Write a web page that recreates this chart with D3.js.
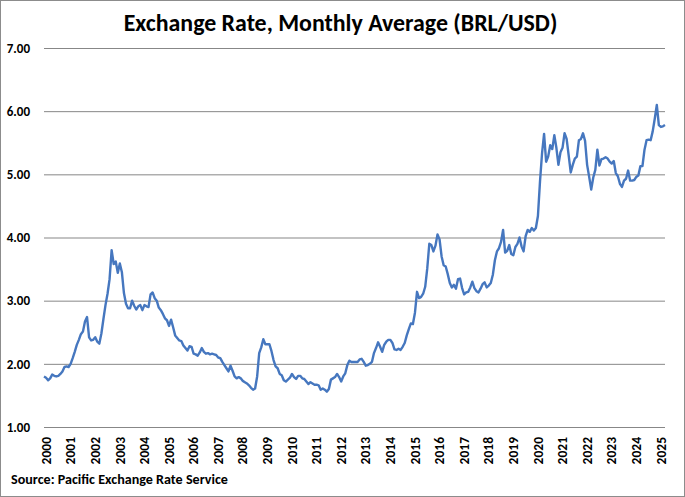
<html>
  <meta charset="utf-8">
  <head>
  <style>
    body {
      margin: 0;
      background: #fff;
    }
    svg text {
      font-family: Carlito, Lato, "Open Sans", sans-serif;
      font-weight: bold;
      fill: #000;
    }
  </style>
  </head>
  <body>
    <div id="elm"></div>

    <script src="https://d3js.org/d3.v7.min.js"></script>
    <script>

    'use strict';

    // monthly averages BRL per USD, Jan 2000 .. Apr 2025
    var rates2000s = [
      1.80, 1.78, 1.74, 1.77, 1.83, 1.81, 1.80, 1.81, 1.84, 1.88, 1.95, 1.96,
      1.95, 2.00, 2.09, 2.19, 2.30, 2.38, 2.47, 2.51, 2.67, 2.74, 2.42, 2.37,
      2.38, 2.42, 2.35, 2.32, 2.48, 2.71, 2.93, 3.11, 3.34, 3.80, 3.58, 3.62,
      3.44, 3.59, 3.45, 3.12, 2.95, 2.88, 2.88, 3.00, 2.92, 2.86, 2.91, 2.93,
      2.85, 2.93, 2.91, 2.90, 3.10, 3.13, 3.04, 3.00, 2.89, 2.85, 2.79, 2.72,
      2.69, 2.60, 2.70, 2.58, 2.45, 2.41, 2.37, 2.36, 2.29, 2.25, 2.21, 2.28,
      2.27, 2.16, 2.15, 2.13, 2.18, 2.25, 2.19, 2.16, 2.17, 2.15, 2.16, 2.15,
      2.14, 2.10, 2.09, 2.03, 1.98, 1.93, 1.88, 1.97, 1.89, 1.80, 1.77, 1.79,
      1.77, 1.73, 1.71, 1.69, 1.66, 1.62, 1.59, 1.61, 1.80, 2.17, 2.26, 2.39,
      2.31, 2.31, 2.31, 2.20, 2.06, 1.96, 1.93, 1.84, 1.82, 1.74, 1.72, 1.75
    ];
    var rates2010s = [
      1.78, 1.84, 1.79, 1.76, 1.81, 1.81, 1.77, 1.76, 1.72, 1.68, 1.71, 1.69,
      1.67, 1.67, 1.66, 1.59, 1.61, 1.59, 1.56, 1.60, 1.75, 1.77, 1.79, 1.84,
      1.79, 1.72, 1.80, 1.85, 1.98, 2.05, 2.03, 2.03, 2.03, 2.03, 2.07, 2.08,
      2.03, 1.97, 1.98, 2.00, 2.03, 2.17, 2.25, 2.34, 2.27, 2.19, 2.30, 2.35,
      2.38, 2.38, 2.33, 2.23, 2.22, 2.24, 2.22, 2.27, 2.33, 2.45, 2.55, 2.64,
      2.63, 2.81, 3.14, 3.04, 3.06, 3.11, 3.22, 3.51, 3.90, 3.88, 3.78, 3.87,
      4.05, 3.97, 3.70, 3.56, 3.54, 3.42, 3.28, 3.21, 3.25, 3.19, 3.34, 3.35,
      3.20, 3.10, 3.13, 3.14, 3.21, 3.30, 3.20, 3.15, 3.13, 3.19, 3.26, 3.29,
      3.21, 3.24, 3.28, 3.41, 3.64, 3.78, 3.83, 3.93, 4.12, 3.76, 3.79, 3.88,
      3.74, 3.72, 3.85, 3.90, 4.00, 3.86, 3.78, 4.02, 4.12, 4.09, 4.15, 4.11
    ];
    var rates2020s = [
      4.15, 4.34, 4.88, 5.33, 5.64, 5.20, 5.28, 5.46, 5.40, 5.62, 5.42, 5.15,
      5.35, 5.42, 5.65, 5.56, 5.30, 5.03, 5.15, 5.25, 5.28, 5.54, 5.56, 5.65,
      5.53, 5.15, 4.96, 4.76, 4.95, 5.07, 5.39, 5.14, 5.24, 5.25, 5.27, 5.25,
      5.20, 5.17, 5.21, 5.02, 4.97, 4.85, 4.80, 4.90, 4.93, 5.06, 4.90, 4.90,
      4.91, 4.96, 4.98, 5.13, 5.13, 5.39, 5.54, 5.55, 5.54, 5.68, 5.88, 6.10,
      5.78, 5.75, 5.76, 5.78
    ];
    var yearLabels = d3.range(2000, 2026).map(String);
    var yTicks = [1, 2, 3, 4, 5, 6, 7];
    var titleText = 'Exchange Rate, Monthly Average (BRL/USD)';
    var sourceText = 'Source: Pacific Exchange Rate Service';

    var rates = rates2000s.concat(rates2010s, rates2020s);

    var W = 685, H = 497;
    var plot = {left: 44, right: 665, top: 48, bottom: 427};
    var labelFont = 'Carlito, Lato, sans-serif';

    var x = d3.scaleLinear()
      .domain([0, rates.length - 1])
      .range([plot.left, plot.right]);
    var y = d3.scaleLinear()
      .domain([1, 7])
      .range([plot.bottom, plot.top]);

    var svg = d3.select('#elm').append('svg')
      .attr('width', W)
      .attr('height', H);

    // chart border
    svg.append('rect')
      .attr('x', 0.5).attr('y', 0.5)
      .attr('width', W - 1).attr('height', H - 1)
      .attr('fill', '#fff')
      .attr('stroke', '#8c8c8c');

    // scale font so the text spans the measured width
    function fit(sel, width) {
      var size = parseFloat(sel.style('font-size'));
      var len = sel.node().getComputedTextLength();
      sel.style('font-size', (size * width / len) + 'px');
    }

    svg.append('text')
      .attr('x', 340.5).attr('y', 31)
      .attr('text-anchor', 'middle')
      .style('font-size', '23px')
      .text(titleText)
      .call(fit, 434);

    // gridlines + value labels
    var yAxis = d3.axisLeft(y)
      .tickValues(yTicks)
      .tickFormat(d3.format('.2f'))
      .tickSize(-(plot.right - plot.left))
      .tickPadding(14);

    svg.append('g')
      .attr('transform', 'translate(' + plot.left + ',0)')
      .call(yAxis)
      .call(g => g.select('.domain').remove())
      .call(g => g.selectAll('line').attr('stroke', '#878787').attr('stroke-width', 1))
      .call(g => g.selectAll('text')
        .style('font-size', '13px')
        .style('font-family', labelFont)
        .attr('fill', '#000'));

    // year labels, rotated
    var xAxis = d3.axisBottom(x)
      .tickValues(yearLabels.map((d, i) => i * 12))
      .tickFormat((d, i) => yearLabels[i])
      .tickSize(0);

    svg.append('g')
      .attr('transform', 'translate(0,' + plot.bottom + ')')
      .call(xAxis)
      .call(g => g.select('.domain').remove())
      .call(g => g.selectAll('text')
        .attr('transform', 'translate(1.5,10) rotate(-90)')
        .attr('x', 0).attr('y', 0)
        .attr('dy', '0.35em')
        .attr('text-anchor', 'end')
        .style('font-size', '13.5px')
        .style('font-family', labelFont)
        .attr('fill', '#000'));

    var line = d3.line()
      .x((d, i) => x(i))
      .y(d => y(d));

    svg.append('path')
      .datum(rates)
      .attr('fill', 'none')
      .attr('stroke', '#4677BF')
      .attr('stroke-width', 2.4)
      .attr('stroke-linejoin', 'round')
      .attr('d', line);

    svg.append('text')
      .attr('x', 11).attr('y', 484)
      .style('font-size', '13px')
      .text(sourceText)
      .call(fit, 217);

    </script>
  </body>
</html>
